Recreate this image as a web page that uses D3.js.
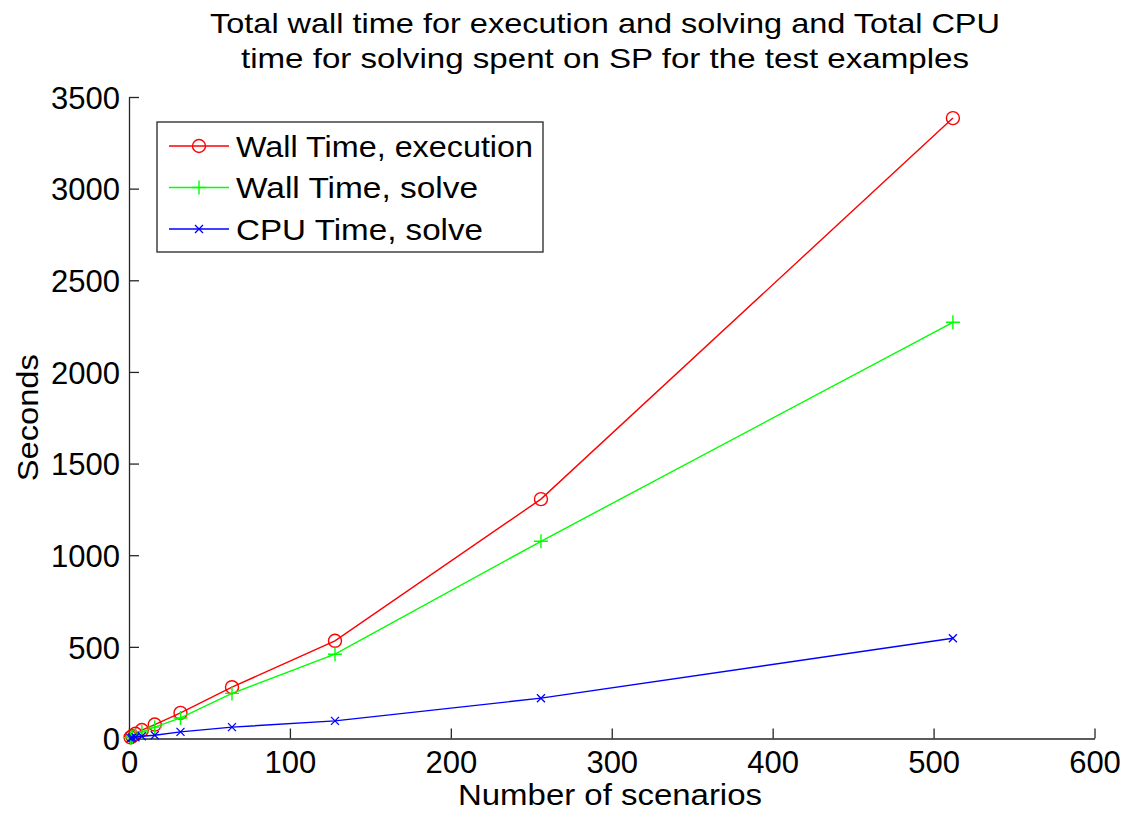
<!DOCTYPE html>
<html>
    <head>
        <meta charset="utf-8">
        <title>Wall and CPU time</title>
        <style>
            body {
                margin: 0;
                background: #fff;
                font-family: "Liberation Sans", Arial, Helvetica, sans-serif;
            }
        </style>
        <script src="https://d3js.org/d3.v7.min.js"></script>
    </head>
    <body>
        <svg></svg>
        <script>
            const scenarios = [1, 2, 4, 8, 16, 32, 64, 128, 256, 512];
            const wallExec = [6, 13, 26, 46, 76, 140, 280, 533, 1306, 3385];
            const wallSolve = [4, 9, 18, 36, 62, 112, 246, 460, 1076, 2271];
            const cpuSolve = [2, 4, 7, 12, 18, 36, 62, 96, 220, 547];
            const xTicks = [0, 100, 200, 300, 400, 500, 600];
            const yTicks = [0, 500, 1000, 1500, 2000, 2500, 3000, 3500];

            const series = [
                {name: 'Wall Time, execution', values: wallExec, color: '#ff0000', marker: 'circle', len: 297},
                {name: 'Wall Time, solve', values: wallSolve, color: '#00ff00', marker: 'plus', len: 242},
                {name: 'CPU Time, solve', values: cpuSolve, color: '#0000ff', marker: 'cross', len: 247}
            ];

            const width = 1132;
            const height = 814;
            const margin = {left: 129, right: 1094.5, top: 97, bottom: 738.5};

            const svg = d3.select('svg')
                .attr('width', width)
                .attr('height', height);

            const x = d3.scaleLinear().domain([0, 600]).range([margin.left, margin.right]);
            const y = d3.scaleLinear().domain([0, 3500]).range([margin.bottom, margin.top]);

            // axes, ticks pointing inward like matlab
            const xAxis = svg.append('g')
                .attr('transform', 'translate(0,' + margin.bottom + ')')
                .call(d3.axisBottom(x).tickValues(xTicks).tickFormat(d3.format('d'))
                    .tickSizeInner(-10).tickSizeOuter(0).tickPadding(12));
            const yAxis = svg.append('g')
                .attr('transform', 'translate(' + margin.left + ',0)')
                .call(d3.axisLeft(y).tickValues(yTicks).tickFormat(d3.format('d'))
                    .tickSizeInner(-10).tickSizeOuter(0).tickPadding(9));

            [xAxis, yAxis].forEach(a => {
                a.selectAll('path, line').attr('stroke', '#262626').attr('stroke-width', 1.3);
                a.selectAll('text')
                    .attr('fill', '#000')
                    .style('font-size', '31px')
                    .style('font-family', '"Liberation Sans", Arial, sans-serif');
            });
            xAxis.selectAll('text').attr('dy', '0.71em');
            yAxis.selectAll('text').attr('dy', '0.36em');

            const line = d3.line()
                .x((d, i) => x(scenarios[i]))
                .y(d => y(d));

            const drawMarker = (sel, kind, color) => {
                if (kind === 'circle') {
                    sel.append('circle').attr('r', 6.5)
                        .attr('fill', 'none').attr('stroke', color).attr('stroke-width', 1.4);
                } else if (kind === 'plus') {
                    sel.append('path').attr('d', 'M-7,0H7M0,-7V7')
                        .attr('stroke', color).attr('stroke-width', 1.4);
                } else {
                    sel.append('path').attr('d', 'M-4,-4L4,4M-4,4L4,-4')
                        .attr('stroke', color).attr('stroke-width', 1.3);
                }
            };

            const plot = svg.append('g');
            series.forEach(s => {
                plot.append('path')
                    .attr('d', line(s.values))
                    .attr('fill', 'none')
                    .attr('stroke', s.color)
                    .attr('stroke-width', 1.4);
                s.values.forEach((v, i) => {
                    const m = plot.append('g')
                        .attr('transform', 'translate(' + x(scenarios[i]) + ',' + y(v) + ')');
                    drawMarker(m, s.marker, s.color);
                });
            });

            // legend
            const legend = svg.append('g').attr('transform', 'translate(157,122)');
            legend.append('rect')
                .attr('width', 386).attr('height', 130)
                .attr('fill', '#fff').attr('stroke', '#262626').attr('stroke-width', 1.3);
            series.forEach((s, i) => {
                const row = legend.append('g').attr('transform', 'translate(0,' + (24 + i * 41.5) + ')');
                row.append('line')
                    .attr('x1', 12).attr('x2', 72)
                    .attr('stroke', s.color).attr('stroke-width', 1.4);
                drawMarker(row.append('g').attr('transform', 'translate(42,0)'), s.marker, s.color);
                row.append('text')
                    .attr('x', 79).attr('dy', '0.36em')
                    .attr('textLength', s.len)
                    .attr('lengthAdjust', 'spacingAndGlyphs')
                    .style('font-size', '30px')
                    .text(s.name);
            });

            // title and labels
            const title = svg.append('text')
                .attr('text-anchor', 'middle')
                .style('font-size', '28px');
            title.append('tspan').attr('x', 605).attr('y', 33)
                .attr('textLength', 790).attr('lengthAdjust', 'spacingAndGlyphs')
                .text('Total wall time for execution and solving and Total CPU');
            title.append('tspan').attr('x', 605).attr('y', 68)
                .attr('textLength', 728).attr('lengthAdjust', 'spacingAndGlyphs')
                .text('time for solving spent on SP for the test examples');

            svg.append('text')
                .attr('x', 610)
                .attr('y', 805)
                .attr('text-anchor', 'middle')
                .attr('textLength', 304)
                .attr('lengthAdjust', 'spacingAndGlyphs')
                .style('font-size', '30px')
                .text('Number of scenarios');

            svg.append('text')
                .attr('transform', 'translate(38,' + (margin.top + margin.bottom) / 2 + ') rotate(-90)')
                .attr('text-anchor', 'middle')
                .attr('textLength', 127)
                .attr('lengthAdjust', 'spacingAndGlyphs')
                .style('font-size', '30px')
                .text('Seconds');
        </script>
    </body>
</html>
